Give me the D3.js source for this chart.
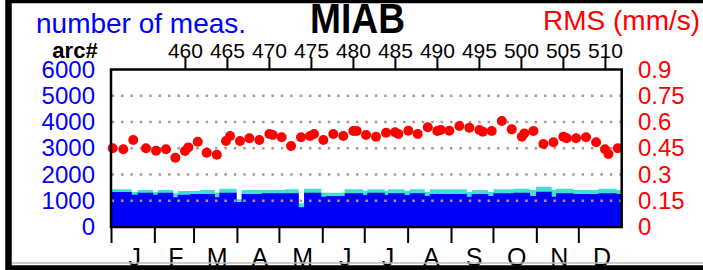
<!DOCTYPE html>
<html>
<head>
<meta charset="utf-8">
<script src="https://cdn.jsdelivr.net/npm/d3@7/dist/d3.min.js"></script>
<style>
  body { margin: 0; background: #fff; }
  svg { display: block; font-family: "Liberation Sans", Arial, sans-serif; }
</style>
</head>
<body>
<div id="chart"></div>
<script>
// ── DATA ─────────────────────────────────────────────
const stationName = "MIAB";
const monthLabels = ["J", "F", "M", "A", "M", "J", "J", "A", "S", "O", "N", "D"];
const monthStarts = [0, 31, 59, 90, 120, 151, 181, 212, 243, 273, 304, 334];
const arcTicks = [460, 465, 470, 475, 480, 485, 490, 495, 500, 505, 510];
const arcDomain = [451.2, 512];
const countTicks = [0, 1000, 2000, 3000, 4000, 5000, 6000];
const rmsTicks = [0, 0.15, 0.3, 0.45, 0.6, 0.75, 0.9];

// number of measurements, step series (day of year where each step starts)
const measDays = [0, 14.8, 19.1, 30.2, 33.4, 44.5, 47.7, 56.5, 63.6, 74.3, 77.4, 89.8, 93.4,
  107.7, 124.2, 134.2, 138, 150.3, 153.9, 167, 180.1, 183.2, 195.6, 198, 209.9, 213.5,
  224.2, 227.8, 254.3, 257.8, 269.7, 273.3, 287.6, 299.5, 303.8, 315, 318.1, 330.5,
  348.3, 361.5];
const measAll = [1436, 1333, 1410, 1333, 1410, 1283, 1371, 1371, 1410, 1308, 1460, 1055, 1410,
  1410, 1436, 902, 1460, 1308, 1308, 1436, 1384, 1436, 1384, 1436, 1384, 1436,
  1333, 1436, 1333, 1410, 1333, 1436, 1460, 1410, 1537, 1410, 1460, 1410,
  1460, 1410];
const measUsed = [1333, 1231, 1308, 1231, 1308, 1130, 1231, 1257, 1257, 1130, 1308, 952, 1257,
  1283, 1283, 750, 1308, 1155, 1181, 1283, 1218, 1308, 1218, 1283, 1218, 1283,
  1181, 1257, 1155, 1257, 1181, 1283, 1308, 1181, 1346, 1155, 1283, 1257,
  1283, 1257];

// RMS per arc
const rmsDays = [1.2, 8.8, 15.9, 25.0, 32.2, 39.3, 46.0, 52.9, 55.3, 62.0, 68.4, 75.6, 82.2, 85.1,
  92.2, 98.9, 106.0, 113.2, 115.6, 122.0, 128.7, 135.8, 142.2, 145.1, 151.8, 158.9, 166.0,
  173.2, 175.6, 182.3, 189.4, 196.6, 203.0, 205.4, 212.5, 219.2, 226.4, 233.2, 235.7, 241.8,
  249.0, 256.1, 263.3, 265.7, 272.1, 279.3, 286.4, 293.6, 295.4, 301.9, 309.0, 316.2, 323.3,
  325.7, 332.4, 339.5, 346.7, 353.1, 355.5, 362.2];
const rmsValues = [0.450, 0.444, 0.497, 0.450, 0.436, 0.444, 0.396, 0.434, 0.455, 0.487, 0.425,
  0.413, 0.491, 0.520, 0.491, 0.507, 0.497, 0.531, 0.526, 0.513, 0.463, 0.513, 0.520, 0.531,
  0.497, 0.531, 0.520, 0.549, 0.549, 0.526, 0.516, 0.539, 0.541, 0.531, 0.550, 0.531, 0.570,
  0.549, 0.554, 0.550, 0.577, 0.567, 0.554, 0.545, 0.549, 0.606, 0.558, 0.516, 0.535, 0.549,
  0.474, 0.484, 0.516, 0.507, 0.507, 0.513, 0.484, 0.444, 0.417, 0.450];

// ── DIMENSIONS ───────────────────────────────────────
const W = 703, H = 270;
const margin = { top: 69.5, left: 111, right: 81.3, bottom: 43 };
const width = W - margin.left - margin.right;
const height = H - margin.top - margin.bottom;

const svg = d3.select("#chart").append("svg")
  .attr("width", W).attr("height", H);

const g = svg.append("g")
  .attr("transform", `translate(${margin.left},${margin.top})`);

// ── SCALES ───────────────────────────────────────────
const x = d3.scaleLinear().domain([0, 365]).range([0, width]);
const xArc = d3.scaleLinear().domain(arcDomain).range([0, width]);
const yCount = d3.scaleLinear().domain([0, 6000]).range([height, 0]);
const yRms = d3.scaleLinear().domain([0, 0.9]).range([height, 0]);

// ── MEASUREMENT AREAS ────────────────────────────────
const measRows = measDays.map((d, i) => ({ day: d, all: measAll[i], used: measUsed[i] }));
measRows.push({ day: 365, all: measAll[measAll.length - 1], used: measUsed[measUsed.length - 1] });

g.append("path")
  .datum(measRows)
  .attr("fill", "#40e0d0")
  .attr("d", d3.area().curve(d3.curveStepAfter)
    .x(d => x(d.day)).y0(height).y1(d => yCount(d.all)));

g.append("path")
  .datum(measRows)
  .attr("fill", "#0000ff")
  .attr("d", d3.area().curve(d3.curveStepAfter)
    .x(d => x(d.day)).y0(height).y1(d => yCount(d.used)));

// ── GRID ─────────────────────────────────────────────
g.append("g")
  .selectAll("line")
  .data(countTicks.slice(1, -1))
  .join("line")
    .attr("x1", 0).attr("x2", width)
    .attr("y1", d => yCount(d)).attr("y2", d => yCount(d))
    .attr("stroke", "#bc8f8f")
    .attr("stroke-width", 2.5)
    .attr("stroke-dasharray", "2.5,6.9")
    .attr("stroke-dashoffset", -0.6);

// ── RMS DOTS ─────────────────────────────────────────
g.append("g")
  .selectAll("circle")
  .data(rmsDays.map((d, i) => ({ day: d, rms: rmsValues[i] })))
  .join("circle")
    .attr("cx", d => x(d.day))
    .attr("cy", d => yRms(d.rms))
    .attr("r", 5)
    .attr("fill", "#ff0000");

// plot frame
g.append("rect")
  .attr("width", width).attr("height", height)
  .attr("fill", "none").attr("stroke", "#000").attr("stroke-width", 2.5);

// ── AXES ─────────────────────────────────────────────
const leftAxis = g.append("g")
  .call(d3.axisLeft(yCount).tickValues(countTicks).tickFormat(d => String(d)).tickSize(0).tickPadding(16));
leftAxis.select(".domain").remove();
leftAxis.selectAll("text")
  .attr("fill", "#0000ff").attr("font-size", 24).attr("font-family", null);

const rightAxis = g.append("g")
  .attr("transform", `translate(${width},0)`)
  .call(d3.axisRight(yRms).tickValues(rmsTicks).tickFormat(d => String(d)).tickSize(0).tickPadding(16.3));
rightAxis.select(".domain").remove();
rightAxis.selectAll("text")
  .attr("fill", "#ff0000").attr("font-size", 24).attr("font-family", null);

const topAxis = g.append("g")
  .call(d3.axisTop(xArc).tickValues(arcTicks).tickSize(12.5).tickPadding(-0.5));
topAxis.select(".domain").remove();
topAxis.selectAll("line").attr("stroke", "#000").attr("stroke-width", 2);
topAxis.selectAll("text")
  .attr("fill", "#000").attr("font-size", 21).attr("font-family", null);

const bottomAxis = g.append("g")
  .attr("transform", `translate(0,${height})`)
  .call(d3.axisBottom(x).tickValues(monthStarts).tickSize(16).tickFormat(""));
bottomAxis.select(".domain").remove();
bottomAxis.selectAll("line").attr("stroke", "#000").attr("stroke-width", 2);

const monthEnds = monthStarts.slice(1).concat([365]);
g.append("g")
  .selectAll("text")
  .data(monthLabels)
  .join("text")
    .attr("x", (d, i) => x((monthStarts[i] + monthEnds[i]) / 2) + 2)
    .attr("y", height + 38.5)
    .attr("text-anchor", "middle")
    .attr("font-size", 25)
    .text(d => d);

// ── TITLES ───────────────────────────────────────────
svg.append("text")
  .attr("x", 36).attr("y", 33)
  .attr("font-size", 28).attr("fill", "#0000ff")
  .text("number of meas.");

svg.append("text")
  .attr("x", 310).attr("y", 33.3)
  .attr("font-size", 42).attr("font-weight", "bold")
  .attr("textLength", 95).attr("lengthAdjust", "spacingAndGlyphs")
  .text(stationName);

svg.append("text")
  .attr("x", 543).attr("y", 30)
  .attr("font-size", 28).attr("fill", "#ff0000")
  .text("RMS (mm/s)");

svg.append("text")
  .attr("x", 75).attr("y", 57.5)
  .attr("text-anchor", "middle")
  .attr("font-size", 22).attr("font-weight", "bold")
  .text("arc#");

// ── OUTER BORDER ─────────────────────────────────────
svg.append("line")
  .attr("x1", 12).attr("x2", W)
  .attr("y1", 263).attr("y2", 263)
  .attr("stroke", "#bbb").attr("stroke-width", 1.5);

svg.append("rect")
  .attr("x", 8.5).attr("y", 0)
  .attr("width", W + 20).attr("height", 268.5)
  .attr("fill", "none").attr("stroke", "#000").attr("stroke-width", 6.5);
</script>
</body>
</html>
